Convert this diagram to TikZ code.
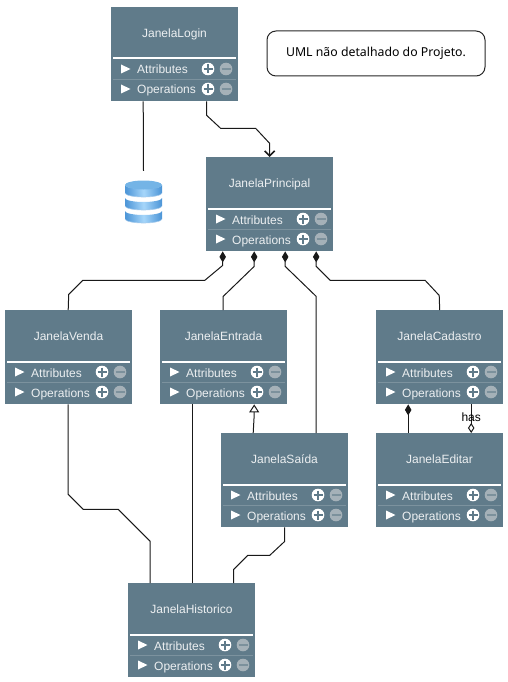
\documentclass[tikz,border=0pt]{standalone}
\usepackage{fontspec}
\setmainfont{Liberation Sans}
\newfontfamily\notefont{Noto Sans}
\usetikzlibrary{arrows.meta, positioning}
\definecolor{boxblue}{HTML}{607B8A}
\definecolor{boxtext}{HTML}{ECEFF1}
\definecolor{boxminus}{HTML}{A5B1B8}
\definecolor{boxsep}{HTML}{7C929E}
\definecolor{dbdark}{HTML}{4F97D8}
\definecolor{dblight}{HTML}{A6D6FA}
\definecolor{dbtop}{HTML}{74B4E6}
\tikzset{
  x=1pt,
  y=-1pt,
  every node/.style={font=\fontsize{12}{14}\selectfont},
  classbox/.style={fill=boxblue, minimum width=127pt, minimum height=94pt, inner sep=0pt, anchor=north west},
  rowtext/.style={text=boxtext, anchor=base west, inner sep=0pt},
  link/.style={draw=black!90, line width=1pt, line join=miter},
  composed/.style={link, {Diamond[length=11pt,width=6.5pt]}-},
  aggregated/.style={link, -{Diamond[open,length=10pt,width=6.5pt,fill=white]}},
  inherits/.style={link, -{Triangle[open,length=8pt,width=10pt,fill=white]}},
  dependson/.style={link, -{Straight Barb[length=5pt,width=10pt,line width=1.6pt]}},
}
% one class of the diagram: name, left, top, title
\newcommand{\janela}[4]{
  \node[classbox] (#1) at (#2,#3) {};
  \begin{scope}[shift={(#2,#3)}]
    \node[text=boxtext, inner sep=0pt, anchor=base] (#1-title) at (63.5,30.5) {#4};
    \draw[white, line width=2pt] (2,51.5) -- (125,51.5);
    \draw[boxsep, line width=0.8pt] (2,72.5) -- (125,72.5);
    \foreach \rowy/\rowname in {62/Attributes, 82/Operations} {
      \fill[white] (10,\rowy-4.5) -- (19.5,\rowy) -- (10,\rowy+4.5) -- cycle;
      \node[rowtext] (#1-\rowname) at (26,\rowy+5) {\rowname};
      \fill[white] (97,\rowy) circle (6.3);
      \draw[boxblue, line width=2pt] (92.5,\rowy) -- (101.5,\rowy) (97,\rowy-4.5) -- (97,\rowy+4.5);
      \fill[boxminus] (115,\rowy) circle (6.3);
      \draw[boxblue!60!boxminus, line width=2pt] (110.5,\rowy) -- (119.5,\rowy);
    }
  \end{scope}
}
\begin{document}
\begin{tikzpicture}
  \useasboundingbox (0,0) rectangle (507,682);

  % classes
  \janela{login}{111}{7}{JanelaLogin}
  \janela{principal}{206}{157}{JanelaPrincipal}
  \janela{venda}{5}{310}{JanelaVenda}
  \janela{entrada}{160}{310}{JanelaEntrada}
  \janela{cadastro}{376}{310}{JanelaCadastro}
  \janela{saida}{221}{433}{JanelaSaída}
  \janela{editar}{376}{433}{JanelaEditar}
  \janela{historico}{128}{583}{JanelaHistorico}

  % note
  \node[draw=black!85, line width=1pt, rounded corners=9pt, minimum width=218pt, minimum height=45pt, inner sep=0pt,
    font=\notefont\fontsize{12.3}{14}\selectfont] (note) at (376,53.5) {UML não detalhado do Projeto.};

  % database
  \node[minimum width=38pt, minimum height=43pt, inner sep=0pt] (db) at (143.5,201.5) {};
  \foreach \disky in {211,198,185} {
    \shade[left color=dbdark, right color=dbdark, middle color=dblight, shading angle=95]
      (125,\disky) -- (125,\disky+8) arc[start angle=180, end angle=360, x radius=18.5, y radius=-4]
      -- (162,\disky) arc[start angle=0, end angle=180, x radius=18.5, y radius=4] -- cycle;
    \draw[white!50!dbdark, line width=0.6pt] (125,\disky+8) arc[start angle=180, end angle=360, x radius=18.5, y radius=-4];
  }
  \fill[dbtop] (143.5,185) ellipse[x radius=18.5, y radius=4.5];

  % transitions
  \draw[link] ([xshift=-31.5pt]login.south) -- ([yshift=9pt]db.north);
  \draw[dependson] ([xshift=32pt]login.south) -- ++(0,14) -- ++(14,13) -- ++(35,0) -- ++(14,15) -- (principal.north);
  \draw[composed] ([xshift=-47pt]principal.south) -- ++(0,14) -- ++(-18,15) -- ++(-122,0) -- ++(-14,14) -- ([xshift=-0.5pt]venda.north);
  \draw[composed] ([xshift=-15.5pt]principal.south) -- ++(0,15) -- ++(-31,30) -- ([xshift=-0.5pt]entrada.north);
  \draw[composed] ([xshift=15.5pt]principal.south) -- ++(0,15) -- ++(31,30) -- ([xshift=31.5pt]saida.north);
  \draw[composed] ([xshift=46.5pt]principal.south) -- ++(0,15) -- ++(14,14) -- ++(95,0) -- ++(14,15) -- (cadastro.north);
  \draw[inherits] ([xshift=-31.5pt]saida.north) -- ++(1,-18) -- ([xshift=30.5pt]entrada.south);
  \draw[composed] ([xshift=-31.5pt]cadastro.south) -- ([xshift=-31.5pt]editar.north);
  \draw[aggregated] ([xshift=31.5pt]cadastro.south) -- node[midway, yshift=1.5pt, inner sep=0pt, text=black] (hasLabel) {has} ([xshift=31.5pt]editar.north);
  \draw[link] ([xshift=-0.5pt]venda.south) -- ++(0,90) -- ++(15,15) -- ++(35,0) -- ++(32,32) -- ([xshift=-41.5pt]historico.north);
  \draw[link] ([xshift=-31.5pt]entrada.south) -- ([xshift=0.5pt]historico.north);
  \draw[link] (saida.south) -- ++(0,14) -- ++(-15,14) -- ++(-22,0) -- ++(-14,14) -- ([xshift=42pt]historico.north);
\end{tikzpicture}
\end{document}
